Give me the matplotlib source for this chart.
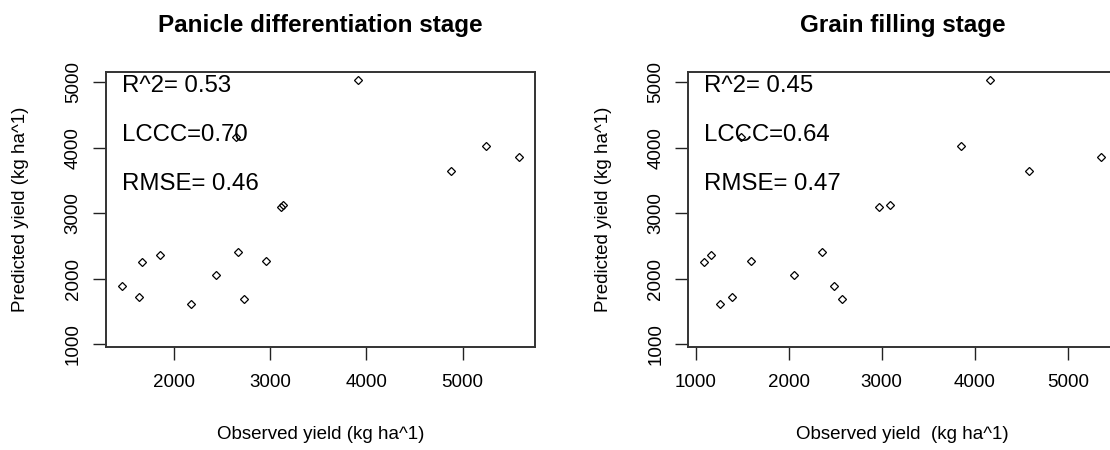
import matplotlib
matplotlib.use('Agg')
import matplotlib.pyplot as plt

plt.rcParams['font.family'] = ['Liberation Sans', 'DejaVu Sans']

# panicle differentiation stage: observed vs predicted yield
panObserved = [1462, 1644, 1669, 1862, 2183, 2442, 2649, 2666, 2728, 2956, 3111, 3132, 3916, 4875, 5245, 5587]
panPredicted = [1892, 1724, 2248, 2366, 1606, 2055, 4170, 2411, 1683, 2269, 3099, 3125, 5036, 3645, 4022, 3859]
panStats = ['R^2= 0.53', 'LCCC=0.70', 'RMSE= 0.46']

# grain filling stage
grainObserved = [1093, 1164, 1264, 1393, 1493, 1593, 2061, 2357, 2489, 2575, 2971, 3089, 3850, 4168, 4579, 5361]
grainPredicted = [2248, 2366, 1606, 1724, 4170, 2269, 2055, 2411, 1892, 1683, 3099, 3125, 4022, 5036, 3645, 3859]
grainStats = ['R^2= 0.45', 'LCCC=0.64', 'RMSE= 0.47']

statRows = [5000, 4250, 3500]
yTicks = [1000, 2000, 3000, 4000, 5000]

W, H = 1110, 450
fig = plt.figure(figsize=(W / 100, H / 100), dpi=100)


def panel(left, observed, predicted, stats, title, xlabel, xticks):
    ax = fig.add_axes([left / W, (H - 346.7) / H, 429 / W, 275 / H])
    ax.plot(observed, predicted, linestyle='none', marker='D', markersize=4.1,
            markerfacecolor='none', markeredgecolor='black', markeredgewidth=0.9)
    ax.margins(x=0.04)
    ax.set_ylim(960, 5160)
    ax.set_xticks(xticks)
    ax.set_yticks(yTicks)
    ax.tick_params(labelsize=13.5, length=9.4, width=1.0, color='#222222')
    ax.tick_params(axis='x', pad=10)
    ax.tick_params(axis='y', pad=8)
    for lab in ax.get_yticklabels():
        lab.set_rotation(90)
        lab.set_va('center')
    for sp in ax.spines.values():
        sp.set_linewidth(1.4)
        sp.set_color('#333333')
    for text, y in zip(stats, statRows):
        ax.annotate(text, (min(observed), y), xytext=(0, -7.2), textcoords='offset points',
                    ha='left', va='baseline', fontsize=17.3)
    ax.set_title(title, fontsize=17.5, fontweight='bold', pad=28.5)
    ax.set_xlabel(xlabel, fontsize=13.5, va='center')
    ax.xaxis.set_label_coords(0.5, -0.318)
    ax.set_ylabel('Predicted yield (kg ha^1)', fontsize=13.5, va='center')
    ax.yaxis.set_label_coords(-85.3 / 429, 0.5)
    return ax


panel(106, panObserved, panPredicted, panStats, 'Panicle differentiation stage',
      'Observed yield (kg ha^1)', [2000, 3000, 4000, 5000])
panel(688.3, grainObserved, grainPredicted, grainStats, 'Grain filling stage',
      'Observed yield  (kg ha^1)', [1000, 2000, 3000, 4000, 5000])

fig.savefig('out.png', dpi=100)
